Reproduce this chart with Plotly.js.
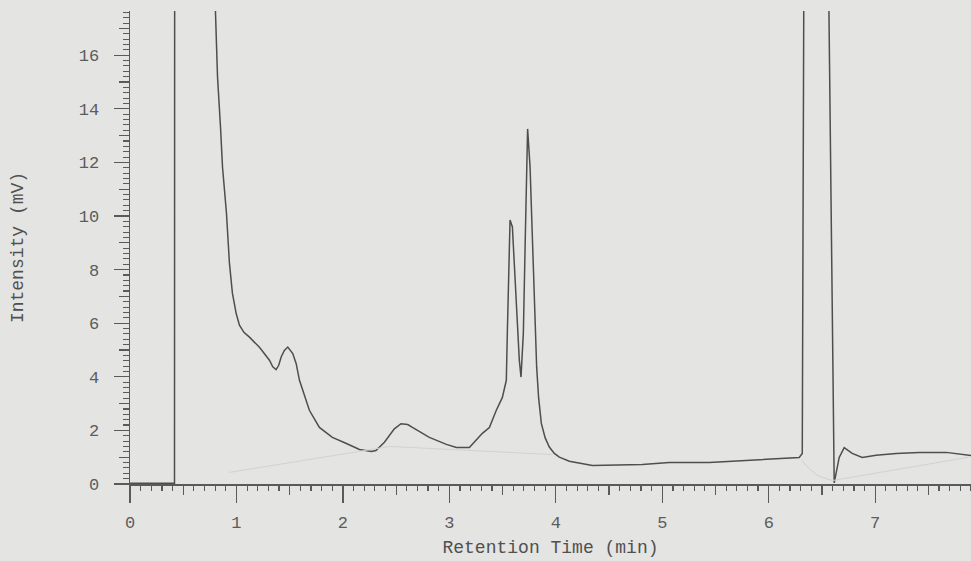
<!DOCTYPE html>
<html>
<head>
<meta charset="utf-8">
<script src="https://cdn.plot.ly/plotly-3.0.1.min.js"></script>
<style>html,body{margin:0;padding:0;background:#e4e4e2;}</style>
</head>
<body>
<div id="chart" style="width:971px;height:561px;"></div>
<script>
// Retention time (min) and intensity (mV) of the chromatogram trace (off-scale parts set high)
const time = [0, 0.418, 0.42, 0.79, 0.803, 0.822, 0.85, 0.869, 0.906, 0.925, 0.934, 0.962, 0.997, 1.028, 1.07, 1.122, 1.216, 1.31, 1.341, 1.372, 1.397, 1.42, 1.45, 1.482, 1.529, 1.561, 1.592, 1.623, 1.685, 1.779, 1.901, 2.033, 2.155, 2.268, 2.31, 2.39, 2.483, 2.546, 2.609, 2.653, 2.812, 2.972, 3.066, 3.188, 3.254, 3.31, 3.376, 3.441, 3.498, 3.535, 3.545, 3.557, 3.57, 3.592, 3.626, 3.657, 3.673, 3.695, 3.714, 3.735, 3.758, 3.777, 3.798, 3.82, 3.838, 3.864, 3.9, 3.939, 3.986, 4.033, 4.127, 4.221, 4.343, 4.812, 5.066, 5.441, 5.911, 6.286, 6.315, 6.335, 6.545, 6.615, 6.662, 6.709, 6.784, 6.878, 7.009, 7.197, 7.413, 7.667, 7.9];
const intensity = [0.03, 0.03, 25, 25, 17.6, 15.2, 13.33, 11.83, 10.11, 8.84, 8.24, 7.12, 6.37, 5.93, 5.66, 5.48, 5.1, 4.62, 4.37, 4.27, 4.43, 4.74, 4.98, 5.11, 4.87, 4.49, 3.87, 3.5, 2.75, 2.11, 1.74, 1.51, 1.29, 1.21, 1.25, 1.56, 2.06, 2.25, 2.22, 2.11, 1.74, 1.48, 1.36, 1.36, 1.63, 1.89, 2.11, 2.75, 3.23, 3.87, 5.74, 8.09, 9.85, 9.59, 6.86, 4.62, 3.99, 5.63, 9.36, 13.25, 11.83, 9.36, 6.86, 4.36, 3.23, 2.26, 1.72, 1.38, 1.14, 1.0, 0.85, 0.78, 0.69, 0.73, 0.8, 0.8, 0.92, 0.99, 1.14, 25, 25, 0.04, 0.99, 1.36, 1.14, 0.99, 1.07, 1.14, 1.18, 1.18, 1.06];

// Faint integration baselines
const baseTimeA = [0.93, 2.44, 3.97];
const baseIntA = [0.43, 1.4, 1.1];
const baseTimeB = [6.31, 6.45, 6.6];
const baseIntB = [0.88, 0.35, 0.13];
const baseTimeC = [6.6, 7.88];
const baseIntC = [0.13, 1.0];

const xTicks = [0, 1, 2, 3, 4, 5, 6, 7];
const yTicks = [0, 2, 4, 6, 8, 10, 12, 14, 16];

const axisColor = '#5a5a5a';
const fontFam = '"Liberation Mono", "DejaVu Sans Mono", monospace';

const traces = [
  {x: baseTimeA, y: baseIntA, xaxis: 'x2', yaxis: 'y2', mode: 'lines', line: {color: '#d2d2d0', width: 1}, hoverinfo: 'skip'},
  {x: baseTimeB, y: baseIntB, xaxis: 'x2', yaxis: 'y2', mode: 'lines', line: {color: '#d8cccc', width: 1, shape: 'spline'}, hoverinfo: 'skip'},
  {x: baseTimeC, y: baseIntC, xaxis: 'x2', yaxis: 'y2', mode: 'lines', line: {color: '#d2d2d0', width: 1}, hoverinfo: 'skip'},
  {x: time, y: intensity, mode: 'lines', line: {color: '#4e4e4e', width: 1.5}}
];

const layout = {
  width: 971, height: 561,
  margin: {l: 130, r: 0, t: 11, b: 77},
  paper_bgcolor: '#e4e4e2', plot_bgcolor: '#e4e4e2',
  showlegend: false,
  font: {family: fontFam, color: '#5c5c5c', size: 17},
  xaxis: {
    range: [0, 7.9], showgrid: false, zeroline: false,
    showline: true, linecolor: axisColor, linewidth: 1.5,
    tickvals: xTicks, ticktext: xTicks.map(String),
    ticks: 'outside', ticklen: 17, tickwidth: 1.2, tickcolor: axisColor,
    ticklabelstandoff: 5,
    minor: {dtick: 0.1, tick0: 0, ticks: 'outside', ticklen: 5, tickwidth: 1.2, tickcolor: axisColor, showgrid: false},
    tickfont: {family: fontFam, size: 17, color: '#5c5c5c'},
    title: {text: 'Retention Time (min)', font: {family: fontFam, size: 18, color: '#505050'}, standoff: 8}
  },
  xaxis2: {
    range: [0, 7.9], overlaying: 'x', anchor: 'y2', showgrid: false, zeroline: false,
    showline: false, showticklabels: false,
    tickmode: 'linear', tick0: 0.5, dtick: 1, ticks: 'outside', ticklen: 10, tickwidth: 1.2, tickcolor: axisColor
  },
  yaxis: {
    range: [0, 17.65], showgrid: false, zeroline: false,
    showline: true, linecolor: axisColor, linewidth: 1.5,
    tickvals: yTicks, ticktext: yTicks.map(String),
    ticks: 'outside', ticklen: 15, tickwidth: 1.2, tickcolor: axisColor,
    ticklabelstandoff: 11,
    minor: {dtick: 0.2, tick0: 0, ticks: 'outside', ticklen: 6, tickwidth: 1.1, tickcolor: axisColor, showgrid: false},
    tickfont: {family: fontFam, size: 17, color: '#5c5c5c'},
    title: {text: 'Intensity (mV)', font: {family: fontFam, size: 18, color: '#505050'}, standoff: 50}
  },
  yaxis2: {
    range: [0, 17.65], overlaying: 'y', anchor: 'x', side: 'left', showgrid: false, zeroline: false,
    showline: false, showticklabels: false,
    tickmode: 'linear', tick0: 1, dtick: 2, ticks: 'outside', ticklen: 10, tickwidth: 1.2, tickcolor: axisColor
  }
};

Plotly.newPlot('chart', traces, layout, {displayModeBar: false, staticPlot: true});
</script>
</body>
</html>
